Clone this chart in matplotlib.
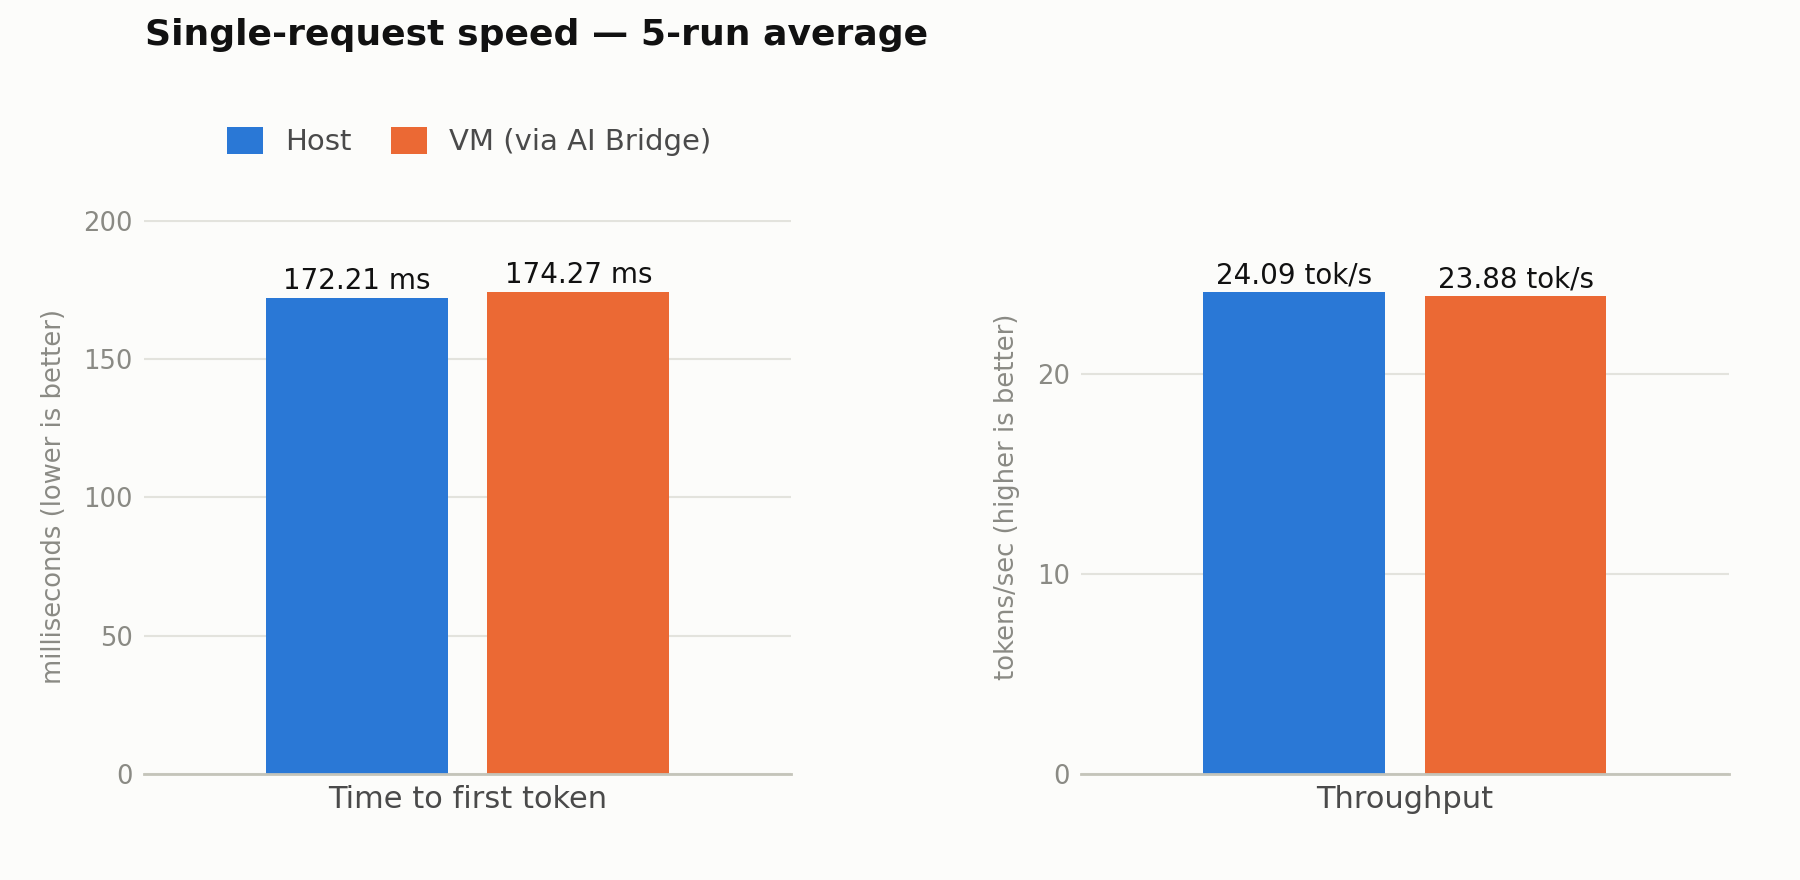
import numpy as np
import matplotlib
matplotlib.use('Agg')
import matplotlib.pyplot as plt
from matplotlib.ticker import MultipleLocator

# --- data ---
title = "Single-request speed — 5-run average"
series = ["Host", "VM (via AI Bridge)"]
categories = ["Time to first token", "Throughput"]
ttft_ms = [172.21, 174.27]
throughput_tps = [24.09, 23.88]
y_labels = ["milliseconds (lower is better)", "tokens/sec (higher is better)"]
units = ["ms", "tok/s"]
tick_steps = [50, 10]

# --- style ---
BG = "#fcfcfa"
colors = ["#2a78d6", "#eb6934"]
GRID = "#e3e3dd"
SPINE = "#c4c4ba"
MUTED = "#8a8a84"
TEXT = "#4a4a4a"

fig = plt.figure(figsize=(9, 4.4), dpi=200, facecolor=BG)
ax_rects = [[0.08, 0.1205, 0.3597, 0.630], [0.6006, 0.1205, 0.3597, 0.630]]
bar_w = 0.281
offsets = [-0.171, 0.171]

handles = []
for rect, cat, vals, ylab, unit, step in zip(ax_rects, categories,
                                              [ttft_ms, throughput_tps],
                                              y_labels, units, tick_steps):
    ax = fig.add_axes(rect)
    ax.set_facecolor(BG)
    bars = []
    for i, v in enumerate(vals):
        b = ax.bar(offsets[i], v, width=bar_w, color=colors[i], label=series[i], zorder=2)
        bars.append(b)
        ax.annotate(f"{v:.2f} {unit}", (offsets[i], v), xytext=(0, 1),
                    textcoords='offset points', ha='center', va='bottom',
                    fontsize=10, color='#111111')
    if not handles:
        handles = bars

    ax.set_xlim(-0.5, 0.5)
    ax.set_ylim(0, max(vals) * 1.15)
    ax.yaxis.set_major_locator(MultipleLocator(step))
    ax.set_xticks([0])
    ax.set_xticklabels([cat])
    ax.tick_params(axis='x', length=0, pad=4, labelsize=11, labelcolor=TEXT)
    ax.tick_params(axis='y', length=0, pad=4, labelsize=9.3, labelcolor=MUTED)
    ax.grid(axis='y', color=GRID, linewidth=0.75)
    ax.set_axisbelow(True)
    for s in ['top', 'right', 'left']:
        ax.spines[s].set_visible(False)
    ax.spines['bottom'].set_color(SPINE)
    ax.spines['bottom'].set_linewidth(1.0)
    ax.set_ylabel(ylab, fontsize=9.3, color=MUTED, labelpad=6)

fig.legend(handles, series, loc='center left', bbox_to_anchor=(0.126, 0.8394),
           frameon=False, fontsize=10.5, handlelength=1.23, handleheight=1.06,
           handletextpad=0.76, columnspacing=1.37, ncol=2, borderpad=0,
           borderaxespad=0, labelcolor=TEXT)

fig.text(0.0806, 0.9489, title, ha='left', va='baseline', fontsize=13,
         fontweight='bold', color='#111111')

fig.savefig('out.png', dpi=200, facecolor=BG)
plt.close(fig)
